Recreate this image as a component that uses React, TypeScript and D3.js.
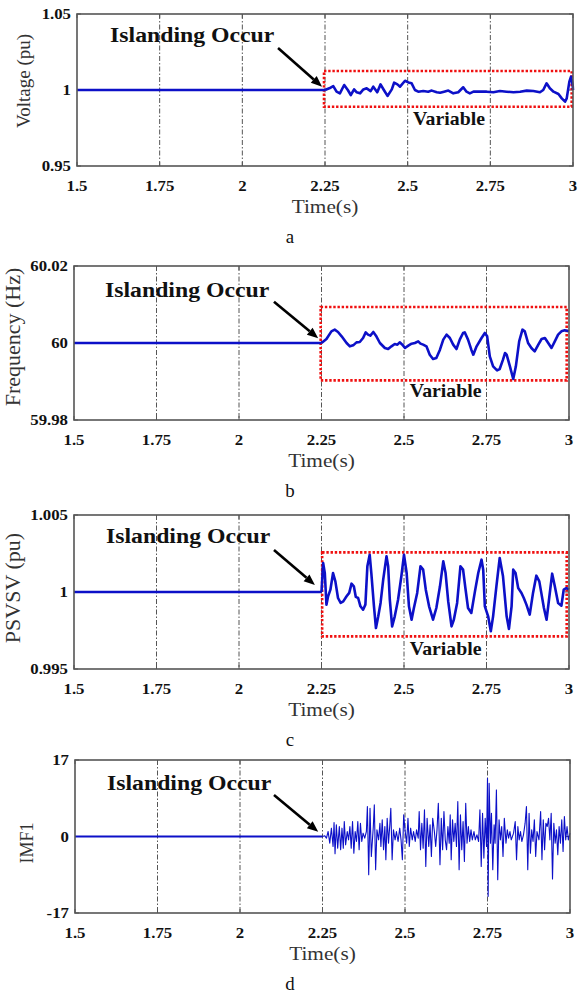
import React from "react";
import * as d3 from "d3";

// ---------- shared axis data ----------
const X_DOMAIN = [1.5, 3];
const X_TICKS = [1.5, 1.75, 2, 2.25, 2.5, 2.75, 3];
const X_TICK_LABELS = ["1.5", "1.75", "2", "2.25", "2.5", "2.75", "3"];
const GRID_TIMES = [1.75, 2, 2.25, 2.5, 2.75];

// ---------- panel a: Voltage ----------
const VOLT_TIME = [1.5, 2.25, 2.263, 2.275, 2.285, 2.295, 2.308, 2.319, 2.328, 2.338, 2.346, 2.356, 2.366, 2.376, 2.388, 2.396, 2.408, 2.418, 2.428, 2.439, 2.452, 2.459, 2.469, 2.477, 2.492, 2.502, 2.512, 2.522, 2.532, 2.547, 2.562, 2.573, 2.588, 2.598, 2.61, 2.623, 2.638, 2.653, 2.668, 2.678, 2.688, 2.699, 2.719, 2.739, 2.759, 2.779, 2.799, 2.82, 2.84, 2.86, 2.88, 2.9, 2.91, 2.92, 2.93, 2.941, 2.956, 2.966, 2.976, 2.981, 2.989, 2.994, 2.999, 3.0];
const VOLT_VALUE = [1.0, 1.0, 1.0011, 1.0026, 0.9989, 0.9978, 1.0033, 1.0, 0.9967, 1.0004, 0.9985, 0.9978, 1.0004, 1.0011, 0.9993, 1.0022, 0.9985, 1.0037, 1.0, 0.9961, 1.0004, 1.0048, 1.0037, 1.0022, 1.0061, 1.005, 1.0044, 1.0, 0.9989, 0.9993, 0.9989, 0.9996, 0.9985, 0.9982, 0.9989, 0.9996, 0.9978, 0.9985, 1.0018, 0.9989, 0.9978, 0.9989, 0.9989, 0.9989, 0.9985, 0.9993, 0.9989, 0.9985, 0.9989, 0.9996, 0.9993, 0.9985, 1.0, 1.0044, 1.0011, 0.9989, 0.9974, 0.9945, 0.9923, 0.9945, 1.0055, 1.0088, 1.0033, 1.0];
const VOLT_TICKS = [0.95, 1, 1.05];
const VOLT_TICK_LABELS = ["0.95", "1", "1.05"];

// ---------- panel b: Frequency ----------
const FREQ_TIME = [1.5, 2.25, 2.265, 2.28, 2.29, 2.3, 2.311, 2.326, 2.336, 2.346, 2.356, 2.366, 2.376, 2.384, 2.391, 2.398, 2.407, 2.415, 2.427, 2.442, 2.452, 2.462, 2.472, 2.48, 2.487, 2.495, 2.503, 2.513, 2.523, 2.533, 2.543, 2.55, 2.558, 2.568, 2.578, 2.588, 2.598, 2.609, 2.619, 2.629, 2.639, 2.649, 2.659, 2.669, 2.679, 2.684, 2.694, 2.704, 2.71, 2.72, 2.735, 2.745, 2.752, 2.76, 2.77, 2.782, 2.79, 2.8, 2.806, 2.811, 2.821, 2.831, 2.839, 2.849, 2.859, 2.866, 2.876, 2.886, 2.896, 2.907, 2.917, 2.927, 2.937, 2.947, 2.957, 2.967, 2.977, 2.987, 3.0];
const FREQ_VALUE = [60, 60, 60.00104, 60.00303, 60.00346, 60.00286, 60.00173, 60.0, 59.99913, 59.99939, 60.00017, 60.00026, 60.0013, 60.00277, 60.00217, 60.00191, 60.00286, 60.00191, 60.0, 59.9987, 59.99844, 59.99913, 59.99974, 59.99957, 60.00017, 59.99957, 59.9987, 59.99931, 59.99983, 60.0, 60.00043, 59.99983, 59.99957, 59.99913, 59.99697, 59.99584, 59.9961, 59.99827, 60.00087, 60.00217, 60.0013, 59.99957, 59.99844, 60.00087, 60.0026, 60.00277, 60.00087, 59.99827, 59.99697, 59.99913, 60.0013, 60.0026, 60.00173, 59.99654, 59.99394, 59.9929, 59.99325, 59.99567, 59.9974, 59.99697, 59.99394, 59.99065, 59.99394, 60.00043, 60.00346, 60.00303, 60.0, 59.9987, 59.99784, 59.99957, 60.00104, 60.0013, 60.0, 59.9987, 60.00043, 60.00217, 60.00303, 60.00329, 60.00303];
const FREQ_TICKS = [59.98, 60, 60.02];
const FREQ_TICK_LABELS = ["59.98", "60", "60.02"];

// ---------- panel c: PSVSV ----------
const PSVSV_TIME = [1.5, 2.25, 2.255, 2.26, 2.265, 2.27, 2.277, 2.285, 2.292, 2.3, 2.308, 2.316, 2.326, 2.334, 2.341, 2.348, 2.354, 2.361, 2.368, 2.376, 2.383, 2.389, 2.396, 2.401, 2.409, 2.415, 2.422, 2.429, 2.437, 2.447, 2.452, 2.457, 2.464, 2.472, 2.482, 2.492, 2.5, 2.508, 2.515, 2.523, 2.53, 2.54, 2.55, 2.558, 2.566, 2.576, 2.588, 2.598, 2.609, 2.619, 2.626, 2.634, 2.644, 2.651, 2.661, 2.671, 2.679, 2.686, 2.694, 2.704, 2.715, 2.725, 2.735, 2.74, 2.745, 2.755, 2.763, 2.77, 2.78, 2.79, 2.8, 2.811, 2.818, 2.826, 2.831, 2.838, 2.846, 2.856, 2.863, 2.871, 2.881, 2.891, 2.901, 2.91, 2.917, 2.924, 2.932, 2.94, 2.949, 2.957, 2.967, 2.977, 2.984, 2.992, 3.0];
const PSVSV_VALUE = [1, 1, 1.00188, 1.00123, 0.99918, 0.99972, 1.00015, 1.00123, 1.00069, 0.99961, 0.99929, 0.99939, 0.99972, 0.99994, 1.00054, 1.00037, 0.99968, 0.99961, 0.99907, 0.99885, 0.99918, 1.00167, 1.00242, 1.00123, 0.99907, 0.99766, 0.99842, 0.99929, 1.0008, 1.00232, 1.00167, 0.9995, 0.99777, 0.99842, 0.9995, 1.00102, 1.00242, 1.00123, 0.99907, 0.9982, 0.99896, 0.99994, 1.00167, 1.00145, 1.00015, 0.99907, 0.9982, 0.99896, 1.00037, 1.00199, 1.00123, 0.99939, 0.99777, 0.9982, 0.99929, 1.00167, 1.00145, 1.00026, 0.99896, 0.99864, 1.00004, 1.00123, 1.0021, 1.00145, 0.99907, 0.99842, 0.99745, 0.99842, 1.00037, 1.00221, 1.00102, 0.99842, 0.9976, 0.99907, 1.00145, 1.00123, 1.00026, 0.99994, 0.99961, 0.99918, 0.99853, 0.99994, 1.00106, 1.00069, 0.99983, 0.99896, 0.9982, 0.99961, 1.00119, 1.00037, 0.99929, 0.99911, 1.00015, 1.00026, 1.00015];
const PSVSV_TICKS = [0.995, 1, 1.005];
const PSVSV_TICK_LABELS = ["0.995", "1", "1.005"];

// ---------- panel d: IMF1 ----------
const IMF_TIME = [1.5, 2.25, 2.257, 2.262, 2.267, 2.272, 2.277, 2.282, 2.285, 2.288, 2.292, 2.296, 2.301, 2.305, 2.309, 2.313, 2.316, 2.32, 2.325, 2.329, 2.333, 2.337, 2.341, 2.345, 2.349, 2.353, 2.357, 2.361, 2.365, 2.369, 2.373, 2.378, 2.383, 2.386, 2.39, 2.394, 2.398, 2.404, 2.407, 2.411, 2.415, 2.42, 2.424, 2.427, 2.431, 2.435, 2.439, 2.442, 2.446, 2.45, 2.454, 2.457, 2.461, 2.465, 2.47, 2.474, 2.479, 2.484, 2.488, 2.492, 2.496, 2.5, 2.505, 2.509, 2.513, 2.517, 2.522, 2.526, 2.531, 2.535, 2.54, 2.543, 2.547, 2.551, 2.555, 2.559, 2.563, 2.567, 2.572, 2.576, 2.58, 2.584, 2.589, 2.593, 2.597, 2.601, 2.606, 2.61, 2.614, 2.618, 2.622, 2.626, 2.63, 2.634, 2.637, 2.64, 2.644, 2.648, 2.652, 2.656, 2.66, 2.664, 2.668, 2.672, 2.676, 2.68, 2.684, 2.688, 2.692, 2.696, 2.7, 2.704, 2.709, 2.713, 2.718, 2.723, 2.727, 2.731, 2.735, 2.739, 2.743, 2.747, 2.75, 2.752, 2.755, 2.759, 2.762, 2.766, 2.77, 2.773, 2.777, 2.781, 2.785, 2.789, 2.793, 2.797, 2.801, 2.806, 2.81, 2.814, 2.818, 2.822, 2.829, 2.834, 2.838, 2.842, 2.846, 2.85, 2.854, 2.859, 2.864, 2.868, 2.872, 2.876, 2.88, 2.884, 2.888, 2.892, 2.896, 2.9, 2.906, 2.911, 2.915, 2.919, 2.923, 2.927, 2.931, 2.935, 2.939, 2.943, 2.947, 2.951, 2.955, 2.959, 2.963, 2.967, 2.971, 2.975, 2.979, 2.983, 2.987, 2.991, 2.995, 3.0];
const IMF_VALUE = [0, 0, 0.15, -0.37, 1.11, -1.48, 1.85, -2.22, 3.1, -3.84, 2.59, -2.59, 2.22, -2.96, 1.85, -2.59, 3.33, -1.85, 1.11, -0.74, 2.22, -2.59, 3.33, -3.7, 1.11, -1.11, 3.33, -2.96, 2.96, -1.11, 0.74, -0.37, 1.11, 6.65, -8.5, 6.28, -4.43, 2.22, 7.02, -7.39, 1.48, -0.74, 2.96, -2.22, 3.7, -2.96, 2.22, -5.17, 4.06, -1.48, 2.59, 6.28, -5.17, 1.48, -0.74, 1.11, -1.11, 1.85, -0.74, -5.17, 4.8, 1.48, -1.48, 4.06, -2.22, 1.85, -0.74, 1.11, -1.11, 1.48, -0.37, 5.54, -2.96, 2.96, -2.59, 5.91, -6.65, 4.06, -2.22, 2.59, -4.43, 4.06, 1.11, -2.22, 1.48, 7.39, -6.28, 4.06, -2.96, 5.54, -0.74, -2.96, 2.22, -1.48, 4.8, -5.17, 3.7, -1.11, 2.96, -2.22, 7.76, -7.39, 4.8, -2.96, 3.33, -5.54, 7.39, -1.48, 2.22, -1.11, 1.48, -0.74, 1.11, -0.74, 0.37, -1.11, 5.91, -6.65, 5.17, -4.8, 4.06, -2.22, 12.93, -13.3, 11.82, -1.48, 5.17, -7.39, 2.59, -1.48, 10.35, -9.61, 3.7, -0.74, 2.22, -4.43, 4.06, -1.48, 1.48, -0.37, 1.11, -0.74, 0.74, 3.33, -5.17, 2.22, -0.74, 1.11, -1.11, 0.37, 2.96, 6.65, -7.39, 5.17, -3.7, 1.48, -1.11, 3.7, -4.43, 1.11, -0.74, 5.54, -5.17, 3.7, -2.96, 2.96, 2.22, 4.06, -0.74, 5.17, -9.46, 2.96, -1.48, 1.48, -4.06, 2.22, -1.48, 3.7, -3.33, 4.43, -0.74, 2.22, -0.74, 0.74];
const IMF_TICKS = [-17, 0, 17];
const IMF_TICK_LABELS = ["-17", "0", "17"];

// ---------- annotation texts ----------
const ANNOTATION_TEXT = "Islanding Occur";
const BOX_TEXT = "Variable";
const X_LABEL = "Time(s)";

const FONT = "'Liberation Serif', 'Times New Roman', serif";
const BLUE = "#0c10c8";
const AXIS = "#555";

type PanelCfg = {
  left: number; right: number; top: number; bottom: number;
  yDomain: number[]; yTicks: number[]; yTickLabels: string[];
  time: number[]; value: number[]; lineWidth: number;
  ylabel: string; ylabelX: number; ylabelY: number; ylabelSize: number;
  text: [number, number];
  arrow: [number, number, number, number];
  box?: [number, number, number, number];
  boxText?: [number, number];
  caption: string;
  flatWidth?: number;
};

const PANELS: PanelCfg[] = [
  {
    left: 77, right: 573, top: 14, bottom: 166,
    yDomain: [0.95, 1.05], yTicks: VOLT_TICKS, yTickLabels: VOLT_TICK_LABELS,
    time: VOLT_TIME, value: VOLT_VALUE, lineWidth: 2.6,
    ylabel: "Voltage (pu)", ylabelX: 30, ylabelY: 81, ylabelSize: 19,
    text: [1.6, 1.0316], arrow: [2.108, 1.0276, 2.241, 1.0022],
    box: [2.247, 2.996, 0.989, 1.0125], boxText: [2.625, 0.977],
    caption: "a",
  },
  {
    left: 74, right: 569, top: 266, bottom: 420,
    yDomain: [59.98, 60.02], yTicks: FREQ_TICKS, yTickLabels: FREQ_TICK_LABELS,
    time: FREQ_TIME, value: FREQ_VALUE, lineWidth: 2.6,
    ylabel: "Frequency (Hz)", ylabelX: 20, ylabelY: 337, ylabelSize: 22,
    text: [1.594, 60.01195], arrow: [2.106, 60.01073, 2.24, 60.00122],
    box: [2.2475, 2.993, 59.9903, 60.00935], boxText: [2.626, 59.9859],
    caption: "b",
  },
  {
    left: 74, right: 569, top: 515, bottom: 669,
    yDomain: [0.995, 1.005], yTicks: PSVSV_TICKS, yTickLabels: PSVSV_TICK_LABELS,
    time: PSVSV_TIME, value: PSVSV_VALUE, lineWidth: 2.6,
    ylabel: "PSVSV (pu)", ylabelX: 20, ylabelY: 588, ylabelSize: 22,
    text: [1.597, 1.003183], arrow: [2.106, 1.002728, 2.23, 1.000457],
    box: [2.252, 2.993, 0.99712, 1.00257], boxText: [2.626, 0.995914],
    caption: "c",
  },
  {
    left: 75, right: 570, top: 760, bottom: 913,
    yDomain: [-17, 17], yTicks: IMF_TICKS, yTickLabels: IMF_TICK_LABELS,
    time: IMF_TIME, value: IMF_VALUE, lineWidth: 1.1, flatWidth: 2,
    ylabel: "IMF1", ylabelX: 33, ylabelY: 843, ylabelSize: 18,
    text: [1.597, 10.33], arrow: [2.103, 9.22, 2.237, 1.07],
    caption: "d",
  },
];

function SText(props: { x: number; y: number; size: number; sx?: number; anchor?: string; bold?: boolean; fill?: string; children: React.ReactNode }) {
  const { x, y, size, sx = 1.12, anchor = "start", bold, fill = "#111", children } = props;
  return (
    <text transform={`translate(${x},${y}) scale(${sx},1)`} fontSize={size} fontFamily={FONT}
      fontWeight={bold ? "bold" : "normal"} textAnchor={anchor} fill={fill}>{children}</text>
  );
}

function Panel({ p }: { p: PanelCfg }) {
  const x = d3.scaleLinear().domain(X_DOMAIN).range([p.left, p.right]);
  const y = d3.scaleLinear().domain(p.yDomain).range([p.bottom, p.top]);
  const idx = d3.range(p.time.length);
  const line = d3.line<number>().x((i) => x(p.time[i])).y((i) => y(p.value[i]));
  const splitIdx = p.time.findIndex((t) => t >= 2.25);
  const flat = idx.slice(0, splitIdx + 1);
  const rest = idx.slice(splitIdx);
  const [ax1, ay1, ax2, ay2] = p.arrow;
  const X1 = x(ax1), Y1 = y(ay1), X2 = x(ax2), Y2 = y(ay2);
  const ang = Math.atan2(Y2 - Y1, X2 - X1);
  const hl = 11, hw = 4.5;
  const bx = X2 - hl * Math.cos(ang), by = Y2 - hl * Math.sin(ang);
  const head = `${X2},${Y2} ${bx + hw * Math.sin(ang)},${by - hw * Math.cos(ang)} ${bx - hw * Math.sin(ang)},${by + hw * Math.cos(ang)}`;
  const midX = (p.left + p.right) / 2;
  return (
    <g>
      {GRID_TIMES.map((t) => (
        <line key={t} x1={x(t)} x2={x(t)} y1={p.top} y2={p.bottom} stroke="#555" strokeWidth={1}
          strokeDasharray="5,2,1.5,2" />
      ))}
      {X_TICKS.map((t) => (
        <g key={"xt" + t}>
          <line x1={x(t)} x2={x(t)} y1={p.bottom} y2={p.bottom - 4} stroke={AXIS} />
          <line x1={x(t)} x2={x(t)} y1={p.top} y2={p.top + 4} stroke={AXIS} />
        </g>
      ))}
      {p.yTicks.map((v) => (
        <g key={"yt" + v}>
          <line x1={p.left} x2={p.left + 4} y1={y(v)} y2={y(v)} stroke={AXIS} />
          <line x1={p.right} x2={p.right - 4} y1={y(v)} y2={y(v)} stroke={AXIS} />
        </g>
      ))}
      {p.box && (
        <rect x={x(p.box[0])} y={y(p.box[3])} width={x(p.box[1]) - x(p.box[0])} height={y(p.box[2]) - y(p.box[3])}
          fill="none" stroke="#f01010" strokeWidth={2.6} strokeDasharray="2.4,1.8" />
      )}
      <path d={line(flat) || ""} fill="none" stroke={BLUE} strokeWidth={p.flatWidth ?? p.lineWidth} />
      <path d={line(rest) || ""} fill="none" stroke={BLUE} strokeWidth={p.lineWidth} strokeLinejoin="round" />
      <rect x={p.left} y={p.top} width={p.right - p.left} height={p.bottom - p.top} fill="none" stroke={AXIS} strokeWidth={1.6} />
      {p.yTicks.map((v, i) => (
        <SText key={"yl" + v} x={p.left - 6} y={y(v) + 5} size={15} bold anchor="end">{p.yTickLabels[i]}</SText>
      ))}
      {X_TICKS.map((t, i) => (
        <SText key={"xl" + t} x={x(t)} y={p.bottom + 25} size={15} bold anchor="middle">{X_TICK_LABELS[i]}</SText>
      ))}
      <SText x={midX} y={p.bottom + 47} size={19} anchor="middle" fill="#333">{X_LABEL}</SText>
      <text transform={`translate(${p.ylabelX},${p.ylabelY}) rotate(-90)`} fontSize={p.ylabelSize} fontFamily={FONT}
        textAnchor="middle" fill="#333">{p.ylabel}</text>
      <SText x={x(p.text[0])} y={y(p.text[1])} size={22} bold sx={1.08}>{ANNOTATION_TEXT}</SText>
      <line x1={X1} y1={Y1} x2={bx} y2={by} stroke="#000" strokeWidth={2.6} />
      <polygon points={head} fill="#000" />
      {p.boxText && (
        <SText x={x(p.boxText[0])} y={y(p.boxText[1])} size={18} bold anchor="middle" sx={1.1}>{BOX_TEXT}</SText>
      )}
      <SText x={290} y={p.bottom + 77} size={18} anchor="middle" sx={1.05}>{p.caption}</SText>
    </g>
  );
}

export default function App() {
  return (
    <svg width={587} height={994} style={{ position: "absolute", left: 0, top: 0, background: "#fff" }}>
      <rect x={0} y={0} width={587} height={994} fill="#fff" />
      {PANELS.map((p) => <Panel key={p.caption} p={p} />)}
    </svg>
  );
}
